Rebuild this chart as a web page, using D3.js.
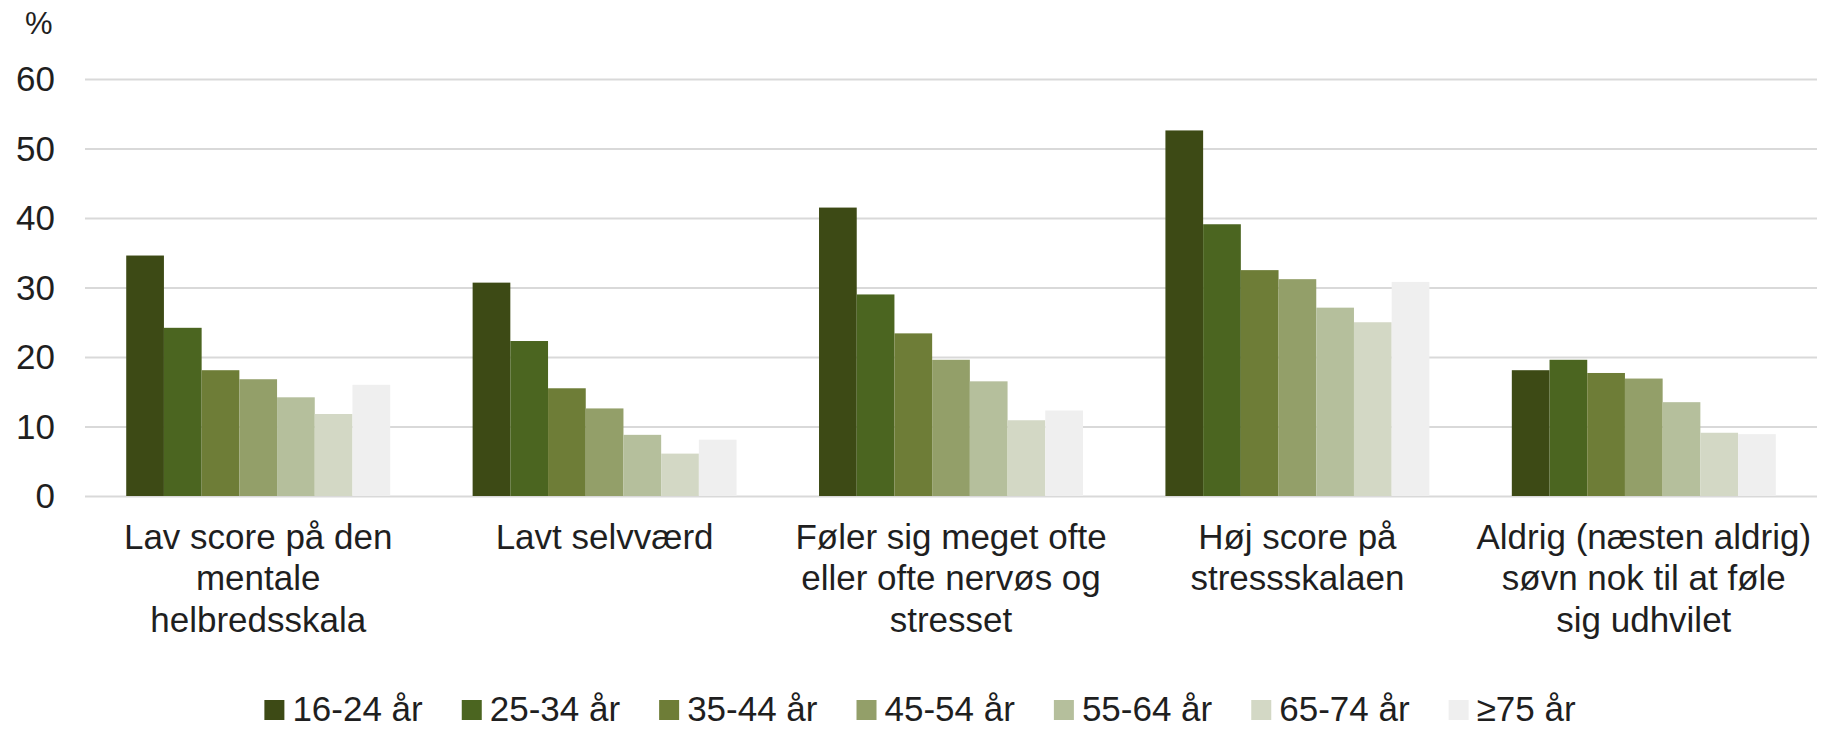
<!DOCTYPE html>
<html>
<head>
<meta charset="utf-8">
<script src="https://cdn.jsdelivr.net/npm/d3@7"></script>
<style>
  body { margin: 0; background: #fff; }
  text { font-family: "Liberation Sans", Arial, sans-serif; fill: #1f1f1f; }
</style>
</head>
<body>
<div id="chart"></div>
<script>
const categories = ["Lav score", "Lavt selvværd", "Nervøs og stresset", "Stressskala", "Søvn"]
const categoryLines = [
  ["Lav score på den", "mentale", "helbredsskala"],
  ["Lavt selvværd"],
  ["Føler sig meget ofte", "eller ofte nervøs og", "stresset"],
  ["Høj score på", "stressskalaen"],
  ["Aldrig (næsten aldrig)", "søvn nok til at føle", "sig udhvilet"]
]
const ageGroups = ["16-24 år", "25-34 år", "35-44 år", "45-54 år", "55-64 år", "65-74 år", "≥75 år"]
const colors = ["#3d4a15", "#4b6520", "#6e7d37", "#939f69", "#b5bf9c", "#d3d8c5", "#efefef"]

// one array per age group, in category order
const age16_24 = [34.6, 30.7, 41.5, 52.6, 18.1]
const age25_34 = [24.2, 22.3, 29.0, 39.1, 19.6]
const age35_44 = [18.1, 15.5, 23.4, 32.5, 17.7]
const age45_54 = [16.8, 12.6, 19.6, 31.2, 16.9]
const age55_64 = [14.2, 8.8, 16.5, 27.1, 13.5]
const age65_74 = [11.8, 6.1, 10.9, 25.0, 9.1]
const age75 = [16.0, 8.1, 12.3, 30.8, 8.9]
const series = [age16_24, age25_34, age35_44, age45_54, age55_64, age65_74, age75]

const yTicks = [0, 10, 20, 30, 40, 50, 60]

const width = 1821, height = 729
const margin = {left: 85, right: 4, top: 79, bottom: 233}
const fontSize = 35

const svg = d3.select("#chart")
  .append("svg")
  .attr("width", width)
  .attr("height", height)

const x0 = d3.scaleBand()
  .domain(categories)
  .range([margin.left, width - margin.right])
  .paddingInner(0.238)
  .paddingOuter(0.119)

const x1 = d3.scaleBand()
  .domain(ageGroups)
  .range([0, x0.bandwidth()])

const y = d3.scaleLinear()
  .domain([0, 60])
  .range([height - margin.bottom, margin.top])

// gridlines + y labels
const yAxis = svg.append("g")
  .attr("transform", `translate(${margin.left},0)`)
  .call(d3.axisLeft(y)
    .tickValues(yTicks)
    .tickSize(-(width - margin.right - margin.left))
    .tickPadding(30))

yAxis.select(".domain").remove()
yAxis.selectAll(".tick line")
  .attr("stroke", "#d9d9d9")
  .attr("stroke-width", 2)
yAxis.selectAll(".tick text")
  .attr("font-size", fontSize)
  .attr("font-family", null)
  .attr("fill", null)
  .attr("dy", "0.34em")

svg.append("text")
  .attr("x", 25)
  .attr("y", 34)
  .attr("font-size", 31)
  .text("%")

// bars
ageGroups.forEach(function(age, i) {
  svg.append("g")
    .selectAll("rect")
    .data(series[i])
    .enter()
    .append("rect")
      .attr("x", (d, j) => x0(categories[j]) + x1(age))
      .attr("y", d => y(d))
      .attr("width", x1.bandwidth())
      .attr("height", d => y(0) - y(d))
      .attr("fill", colors[i])
})

// category labels
categories.forEach(function(cat, j) {
  svg.append("text")
    .attr("text-anchor", "middle")
    .attr("font-size", fontSize)
    .attr("x", x0(cat) + x0.bandwidth() / 2)
    .attr("y", 549)
    .selectAll("tspan")
    .data(categoryLines[j])
    .enter()
    .append("tspan")
      .attr("x", x0(cat) + x0.bandwidth() / 2)
      .attr("dy", (d, k) => k === 0 ? 0 : 41.3)
      .text(d => d)
})

// legend
const legend = svg.append("g")
let lx = 0
ageGroups.forEach(function(age, i) {
  const item = legend.append("g").attr("transform", `translate(${lx},0)`)
  item.append("rect")
    .attr("x", 0)
    .attr("y", 700)
    .attr("width", 20)
    .attr("height", 20)
    .attr("fill", colors[i])
  const t = item.append("text")
    .attr("x", 28)
    .attr("y", 721)
    .attr("font-size", fontSize)
    .text(age)
  lx += 28 + t.node().getComputedTextLength() + 39
})
const legendWidth = lx - 39
legend.attr("transform", `translate(${920 - legendWidth / 2},0)`)
</script>
</body>
</html>
